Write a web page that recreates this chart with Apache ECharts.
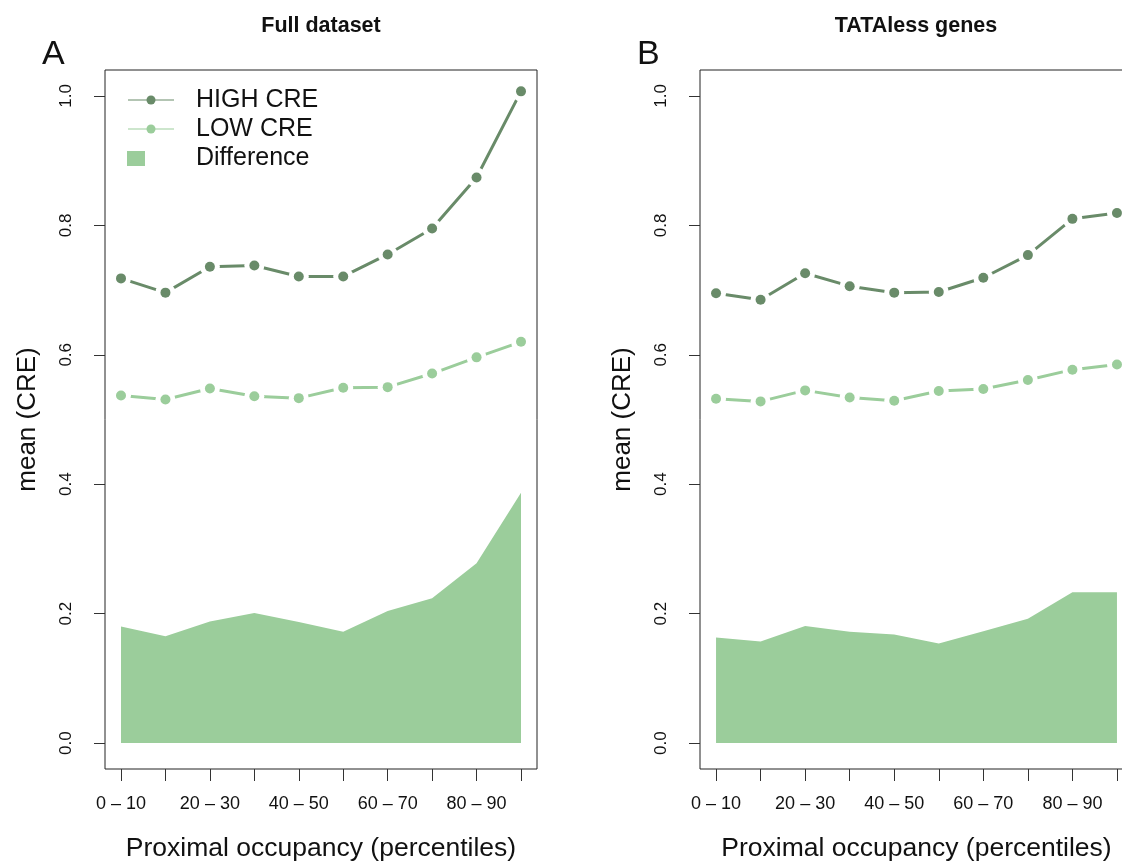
<!DOCTYPE html>
<html>
<head>
<meta charset="utf-8">
<script src="https://cdn.jsdelivr.net/npm/echarts@6/dist/echarts.min.js"></script>
<style>
  html, body { margin: 0; padding: 0; background: #ffffff; }
  #chart { width: 1122px; height: 862px; }
</style>
</head>
<body>
<div id="chart"></div>
<script>
// Percentile bins of proximal occupancy
const categories = ['0 – 10', '10 – 20', '20 – 30', '30 – 40', '40 – 50',
                    '50 – 60', '60 – 70', '70 – 80', '80 – 90', '90 – 100'];
const yTicks = [0, 0.2, 0.4, 0.6, 0.8, 1.0];

// Panel A: full dataset
const fullHigh = [0.718, 0.696, 0.736, 0.738, 0.721, 0.721, 0.755, 0.795, 0.874, 1.007];
const fullLow  = [0.537, 0.531, 0.548, 0.536, 0.533, 0.549, 0.550, 0.571, 0.596, 0.620];
const fullDiff = [0.180, 0.165, 0.188, 0.201, 0.187, 0.172, 0.204, 0.224, 0.278, 0.387];

// Panel B: TATAless genes
const tataHigh = [0.695, 0.685, 0.726, 0.706, 0.696, 0.697, 0.719, 0.754, 0.810, 0.819];
const tataLow  = [0.532, 0.528, 0.545, 0.534, 0.529, 0.544, 0.547, 0.561, 0.577, 0.585];
const tataDiff = [0.163, 0.157, 0.181, 0.172, 0.168, 0.154, 0.173, 0.192, 0.233, 0.233];

const panelTitles = ['Full dataset', 'TATAless genes'];
const panelLetters = ['A', 'B'];
const legendNames = ['HIGH CRE', 'LOW CRE', 'Difference'];
const xTitle = 'Proximal occupancy (percentiles)';
const yTitle = 'mean (CRE)';

const DARK = '#698B69';   // darkseagreen4
const LIGHT = '#9BCD9B';  // darkseagreen3
const FONT = 'Liberation Sans, Arial, Helvetica, sans-serif';
const INK = '#111111';

const positions = categories.map((c, k) => k + 1);
const toPairs = arr => arr.map((v, k) => [k + 1, v]);

// The right panel runs past the page edge, as in the printed figure
const grids = [
  { left: 105, top: 70, width: 432, height: 699 },
  { left: 700, top: 70, width: 433, height: 699 }
];
const panelCentres = [321, 916];

function xAxisFor(i) {
  return {
    type: 'value', gridIndex: i, min: 0.64, max: 10.36,
    axisLine: { show: false, onZero: false },
    splitLine: { show: false },
    axisTick: { show: true, length: 12, customValues: positions,
                lineStyle: { color: '#333', width: 1 } },
    axisLabel: {
      show: true,
      customValues: positions.filter((p, k) => k % 2 === 0),
      formatter: v => categories[Math.round(v) - 1],
      margin: 26, fontSize: 18, color: INK, fontFamily: FONT
    },
    name: xTitle, nameLocation: 'middle', nameGap: 66,
    nameTextStyle: { fontSize: 26.5, color: INK, fontFamily: FONT }
  };
}

function yAxisFor(i) {
  return {
    type: 'value', gridIndex: i, min: -0.04, max: 1.04,
    axisLine: { show: false, onZero: false },
    splitLine: { show: false },
    axisTick: { show: true, length: 11, customValues: yTicks,
                lineStyle: { color: '#333', width: 1 } },
    axisLabel: {
      show: true, customValues: yTicks, rotate: 90,
      formatter: v => v.toFixed(1),
      margin: 30, fontSize: 17, color: INK, fontFamily: FONT
    },
    name: yTitle, nameLocation: 'middle', nameGap: 64,
    nameTextStyle: { fontSize: 26, color: INK, fontFamily: FONT }
  };
}

// Area between the two curves, drawn from zero
function diffSeries(data, i) {
  return {
    type: 'line', xAxisIndex: i, yAxisIndex: i, data: toPairs(data),
    symbol: 'none', lineStyle: { width: 0 },
    areaStyle: { color: LIGHT, opacity: 1, origin: 0 },
    z: 1, silent: true, animation: false
  };
}

// Line with white discs that open a gap around every point (type "b" look)
function gapLine(data, color, i) {
  return {
    type: 'line', xAxisIndex: i, yAxisIndex: i, data: toPairs(data),
    symbol: 'circle', symbolSize: 20, showSymbol: true,
    itemStyle: { color: '#ffffff', borderWidth: 0 },
    lineStyle: { color: color, width: 3 },
    z: 3, silent: true, animation: false
  };
}

function dotSeries(data, color, i) {
  return {
    type: 'scatter', xAxisIndex: i, yAxisIndex: i, data: toPairs(data),
    symbol: 'circle', symbolSize: 10,
    itemStyle: { color: color, opacity: 1 },
    z: 4, silent: true, animation: false
  };
}

const panels = [
  { high: fullHigh, low: fullLow, diff: fullDiff },
  { high: tataHigh, low: tataLow, diff: tataDiff }
];

const series = [];
panels.forEach((p, i) => {
  series.push(diffSeries(p.diff, i));
  series.push(gapLine(p.high, DARK, i));
  series.push(dotSeries(p.high, DARK, i));
  series.push(gapLine(p.low, LIGHT, i));
  series.push(dotSeries(p.low, LIGHT, i));
});

// Titles, panel letters and the legend
const graphics = [];
grids.forEach((g, i) => {
  graphics.push({
    type: 'text', x: panelCentres[i], y: 26,
    style: { text: panelTitles[i], fontSize: 21.5, fontWeight: 'bold', fill: INK,
             fontFamily: FONT, align: 'center', verticalAlign: 'middle' }
  });
  graphics.push({
    type: 'text', x: g.left - 63, y: 55,
    style: { text: panelLetters[i], fontSize: 34, fill: INK,
             fontFamily: FONT, align: 'left', verticalAlign: 'middle' }
  });
});

const legendRows = [100, 129, 158];
[DARK, LIGHT].forEach((c, k) => {
  graphics.push({ type: 'line', shape: { x1: 128, y1: legendRows[k], x2: 174, y2: legendRows[k] },
                  style: { stroke: c, lineWidth: 1 } });
  graphics.push({ type: 'circle', shape: { cx: 151, cy: legendRows[k], r: 4.5 },
                  style: { fill: c } });
});
graphics.push({ type: 'rect', shape: { x: 127, y: 151, width: 18, height: 15 },
                style: { fill: LIGHT } });
legendNames.forEach((n, k) => {
  graphics.push({
    type: 'text', x: 196, y: legendRows[k],
    style: { text: n, fontSize: 25, fill: INK, fontFamily: FONT,
             align: 'left', verticalAlign: 'middle' }
  });
});

const chart = echarts.init(document.getElementById('chart'), null, { renderer: 'canvas' });
chart.setOption({
  backgroundColor: '#ffffff',
  animation: false,
  grid: grids.map(g => Object.assign({ show: true, borderColor: '#222', borderWidth: 1,
                                       backgroundColor: 'transparent',
                                       containLabel: false, outerBoundsMode: 'none' }, g)),
  xAxis: [xAxisFor(0), xAxisFor(1)],
  yAxis: [yAxisFor(0), yAxisFor(1)],
  series: series,
  graphic: graphics
});
</script>
</body>
</html>
